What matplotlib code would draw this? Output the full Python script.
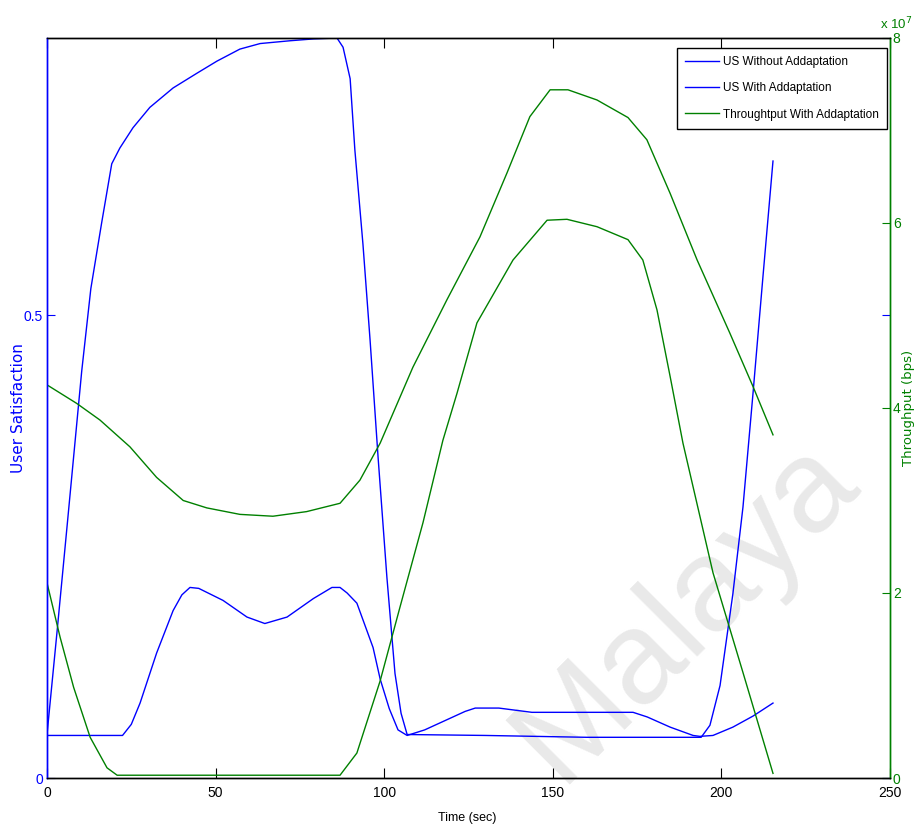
import matplotlib
matplotlib.use("Agg")
import matplotlib.pyplot as plt

plt.rcParams['font.family'] = ['Liberation Sans', 'DejaVu Sans']

# ---------------- data ----------------
t_us_a = [0, 3, 6, 10.3, 13, 16.2, 19.2, 21.6, 25.5, 30.5, 37.4, 44.5, 50.4, 57.2, 63.2, 72, 79, 86,
          87.8, 89.9, 91.3, 93.7, 95.8, 98.2, 100.8, 103.2, 105, 106.8, 130, 160, 193, 194, 196.6,
          199.6, 203.4, 206.4, 209.4, 212.3, 215.3]
us_a = [0.047, 0.159, 0.274, 0.44, 0.529, 0.60, 0.664, 0.681, 0.703, 0.725, 0.746, 0.762, 0.775, 0.788,
        0.794, 0.797, 0.799, 0.800, 0.79, 0.756, 0.679, 0.577, 0.474, 0.346, 0.217, 0.113, 0.07, 0.047,
        0.046, 0.044, 0.044, 0.044, 0.057, 0.10, 0.199, 0.293, 0.417, 0.541, 0.667]

t_us_b = [0, 22.4, 25, 27.6, 32.5, 37.4, 40, 42.4, 45, 52.2, 59.3, 64.6, 71.2, 79, 84.5, 86.9, 89, 91.9,
          96.7, 98.8, 101.5, 104.1, 106.8, 112, 118.6, 124, 127, 134, 143.8, 160, 173.8, 178, 184.8,
          191.6, 193.6, 197.5, 203.4, 209.4, 215.3]
us_b = [0.046, 0.046, 0.058, 0.081, 0.135, 0.181, 0.198, 0.206, 0.205, 0.192, 0.174, 0.167, 0.174, 0.194,
        0.206, 0.206, 0.200, 0.189, 0.141, 0.107, 0.075, 0.052, 0.046, 0.052, 0.063, 0.072, 0.0756, 0.0756,
        0.071, 0.071, 0.071, 0.066, 0.055, 0.046, 0.045, 0.046, 0.055, 0.067, 0.081]

t_thr_1 = [0, 8.8, 15.7, 24.6, 32.5, 40.4, 47.4, 57.2, 67, 77, 86.9, 92.8, 98.8, 108.5, 118.6, 128.4,
           136.4, 143.2, 149.2, 154.5, 163.1, 172.3, 177.9, 184.8, 192.8, 202.5, 209.4, 215.3]
thr_1 = [4.25, 4.05, 3.87, 3.58, 3.25, 3.0, 2.92, 2.85, 2.83, 2.88, 2.97, 3.22, 3.62, 4.44, 5.17, 5.85,
         6.54, 7.15, 7.44, 7.44, 7.33, 7.14, 6.9, 6.32, 5.6, 4.81, 4.23, 3.71]  # x 1e7 bps

t_thr_2 = [0, 3.9, 7.9, 12.8, 17.8, 20.8, 86.9, 91.9, 98.8, 104.7, 111.5, 117.4, 121.6, 127.5, 138.2,
           148.3, 154.2, 163.1, 172.3, 176.7, 180.9, 184.8, 188.6, 197.5, 206.4, 215.3]
thr_2 = [2.11, 1.52, 0.98, 0.44, 0.11, 0.03, 0.03, 0.27, 1.05, 1.85, 2.76, 3.65, 4.16, 4.92, 5.6,
         6.03, 6.04, 5.96, 5.82, 5.6, 5.06, 4.34, 3.62, 2.22, 1.14, 0.05]  # x 1e7 bps

x_ticks = [0, 50, 100, 150, 200, 250]
left_ticks = [0, 0.5]
left_tick_labels = ['0', '0.5']
right_ticks = [0, 2, 4, 6, 8]
legend_labels = ['US Without Addaptation', 'US With Addaptation', 'Throughtput With Addaptation']

BLUE = '#0000ff'
GREEN = '#008000'

# ---------------- figure ----------------
fig = plt.figure(figsize=(9.15, 8.3), dpi=100)
fig.patch.set_facecolor('white')

# watermark
fig.text(685 / 915, 1 - 610 / 830, 'Malaya', fontsize=95, color='#e9e9e9', rotation=45,
         ha='center', va='center', family=['Liberation Sans', 'DejaVu Sans'], zorder=-5)

ax = fig.add_axes([47 / 915, 1 - 778 / 830, (890 - 47) / 915, (778 - 38) / 830])
ax.set_facecolor('none')
ax2 = ax.twinx()
ax2.set_facecolor('none')

l1, = ax.plot(t_us_a, us_a, color=BLUE, lw=1.0)
l2, = ax.plot(t_us_b, us_b, color=BLUE, lw=1.0)
l3, = ax2.plot(t_thr_1, [v * 1e7 for v in thr_1], color=GREEN, lw=1.0)
ax2.plot(t_thr_2, [v * 1e7 for v in thr_2], color=GREEN, lw=1.0)

ax.set_xlim(0, 250)
ax.set_ylim(0, 0.8)
ax2.set_ylim(0, 8e7)

ax.set_xticks(x_ticks)
ax.set_xticklabels([str(v) for v in x_ticks], fontsize=10)
ax.set_yticks(left_ticks)
ax.set_yticklabels(left_tick_labels, fontsize=10, color=BLUE)
ax.tick_params(axis='x', direction='in', length=7, top=True, colors='black', pad=6)
ax.tick_params(axis='y', direction='in', length=6, right=True, colors=BLUE, labelcolor=BLUE, pad=3)

ax2.set_yticks([v * 1e7 for v in right_ticks])
ax2.set_yticklabels([str(v) for v in right_ticks], fontsize=10, color=GREEN)
ax2.tick_params(axis='y', direction='in', length=6, colors=GREEN, labelcolor=GREEN, pad=2)

for a in (ax, ax2):
    a.spines['top'].set_color('black')
    a.spines['bottom'].set_color('black')
    a.spines['left'].set_color(BLUE)
    a.spines['right'].set_color(GREEN)
    for sp in a.spines.values():
        sp.set_linewidth(1.0)

ax.set_xlabel('Time (sec)', fontsize=9)
ax.xaxis.set_label_coords(0.499, -0.046)
ax.set_ylabel('User Satisfaction', fontsize=11, color=BLUE, family=['DejaVu Sans'])
ax.yaxis.label.set_va('center')
ax.yaxis.set_label_coords(-0.034, 0.5)
ax2.set_ylabel('Throughput (bps)', fontsize=9.5, color=GREEN, family=['DejaVu Sans'], rotation=90)
ax2.yaxis.label.set_va('center')
ax2.yaxis.label.set_ha('center')
ax2.yaxis.set_label_coords(1.0222, 0.5)

fig.text(912 / 915, 1 - 24 / 830, r'x 10$^{7}$', fontsize=9.5, color=GREEN, ha='right', va='center')

leg = ax2.legend([l1, l2, l3], legend_labels, loc='upper right',
                 bbox_to_anchor=(0.9964, 0.9865), fontsize=8.5, frameon=True, fancybox=False,
                 edgecolor='black', framealpha=1, handlelength=2.9, labelspacing=1.2,
                 borderpad=0.7, handletextpad=0.3, borderaxespad=0)
leg.get_frame().set_linewidth(1.0)

fig.savefig('out.png', dpi=100, facecolor='white')
